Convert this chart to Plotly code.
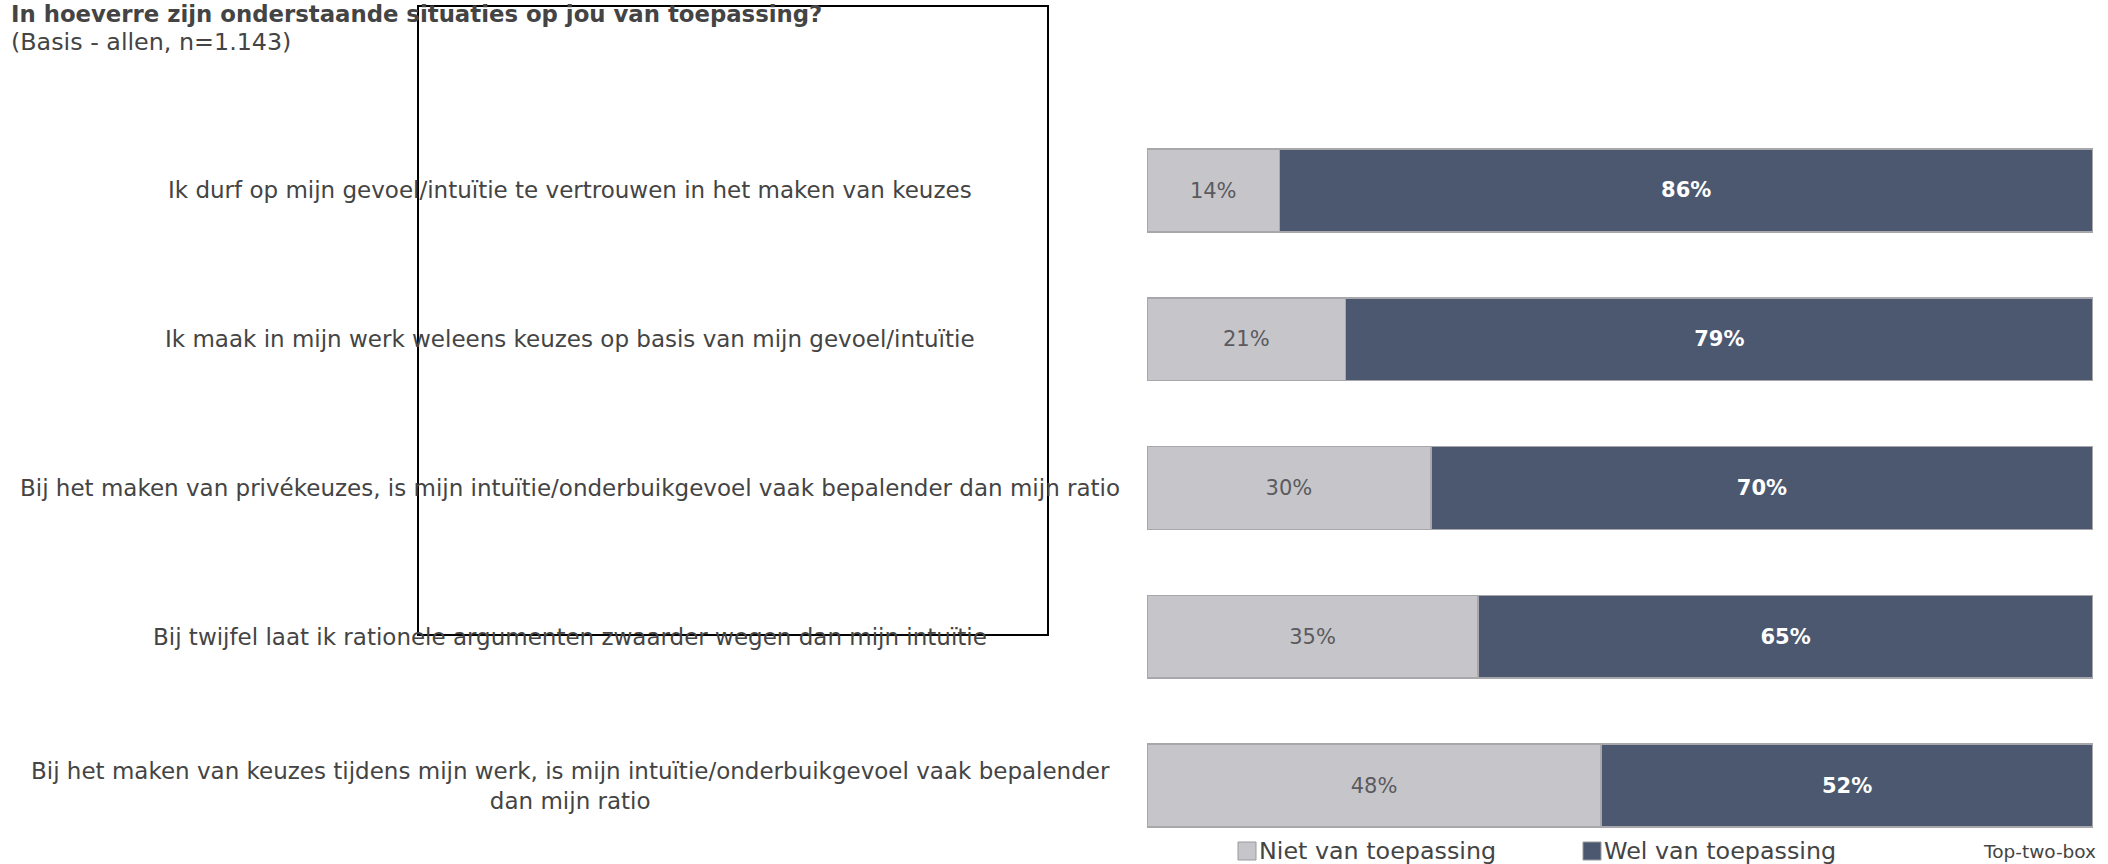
import plotly.graph_objects as go

# Survey statements (top to bottom) and their shares in percent
statements = [
    "Ik durf op mijn gevoel/intuïtie te vertrouwen in het maken van keuzes",
    "Ik maak in mijn werk weleens keuzes op basis van mijn gevoel/intuïtie",
    "Bij het maken van privékeuzes, is mijn intuïtie/onderbuikgevoel vaak bepalender dan mijn ratio",
    "Bij twijfel laat ik rationele argumenten zwaarder wegen dan mijn intuïtie",
    "Bij het maken van keuzes tijdens mijn werk, is mijn intuïtie/onderbuikgevoel vaak bepalender<br>dan mijn ratio",
]
niet_van_toepassing = [14, 21, 30, 35, 48]
wel_van_toepassing = [86, 79, 70, 65, 52]

series_names = ["Niet van toepassing", "Wel van toepassing"]
extra_legend_label = "Top-two-box"

title_text = "In hoeverre zijn onderstaande situaties op jou van toepassing?"
subtitle_text = "(Basis - allen, n=1.143)"

LIGHT = "#c6c6ca"
DARK = "#4b5870"
EDGE = "#a8a8ac"
TEXT = "#444444"
FONT = "DejaVu Sans"

W, H = 2108, 864
PLOT_L, PLOT_R, PLOT_T, PLOT_B = 1147, 2093, 116, 860


def px(x):
    return (x - PLOT_L) / (PLOT_R - PLOT_L)


def py(y):
    return (PLOT_B - y) / (PLOT_B - PLOT_T)


cats = list(range(len(statements)))

fig = go.Figure()
fig.add_trace(go.Bar(
    y=cats, x=niet_van_toepassing, orientation="h", name=series_names[0],
    marker=dict(color=LIGHT, line=dict(color=EDGE, width=1.5)),
    texttemplate="%{x}%", textposition="inside", insidetextanchor="middle",
    textfont=dict(family=FONT, size=22, color="#5a5a5e"),
    width=0.557, hoverinfo="skip", showlegend=False,
))
fig.add_trace(go.Bar(
    y=cats, x=wel_van_toepassing, orientation="h", name=series_names[1],
    marker=dict(color=DARK, line=dict(color=EDGE, width=1.5)),
    texttemplate="<b>%{x}%</b>", textposition="inside", insidetextanchor="middle",
    textfont=dict(family=FONT, size=21, color="white"),
    width=0.557, hoverinfo="skip", showlegend=False,
))

annotations = []
# Statement labels, centred in the left-hand column
for c, s in zip(cats, statements):
    annotations.append(dict(
        x=px(570), xref="paper", y=c, yref="y", text=s, showarrow=False,
        xanchor="center", yanchor="middle", align="center",
        font=dict(family=FONT, size=23, color=TEXT),
    ))

# Heading
annotations.append(dict(
    x=px(9), xref="paper", y=py(14), yref="paper", text="<b>" + title_text + "</b>",
    showarrow=False, xanchor="left", yanchor="middle",
    font=dict(family=FONT, size=22.8, color=TEXT),
))
annotations.append(dict(
    x=px(9), xref="paper", y=py(42), yref="paper", text=subtitle_text,
    showarrow=False, xanchor="left", yanchor="middle",
    font=dict(family=FONT, size=23.8, color=TEXT),
))

# Legend row
legend_y = 851
legend_items = [(1238, LIGHT, series_names[0]), (1583, DARK, series_names[1])]
shapes = []
for x0, col, name in legend_items:
    shapes.append(dict(
        type="rect", xref="paper", yref="paper",
        x0=px(x0), x1=px(x0 + 18), y0=py(legend_y + 9), y1=py(legend_y - 9),
        fillcolor=col, line=dict(color="#9a9a9e", width=1),
    ))
    annotations.append(dict(
        x=px(x0 + 19), xref="paper", y=py(legend_y), yref="paper", text=name,
        showarrow=False, xanchor="left", yanchor="middle",
        font=dict(family=FONT, size=23.8, color=TEXT),
    ))
annotations.append(dict(
    x=px(2098), xref="paper", y=py(legend_y), yref="paper", text=extra_legend_label,
    showarrow=False, xanchor="right", yanchor="middle",
    font=dict(family=FONT, size=18.5, color=TEXT),
))

# Outline frame over the label column
shapes.append(dict(
    type="rect", xref="paper", yref="paper",
    x0=px(418), x1=px(1048), y0=py(635), y1=py(6),
    line=dict(color="black", width=2), fillcolor="rgba(0,0,0,0)",
))

fig.update_layout(
    width=W, height=H,
    margin=dict(l=PLOT_L, r=W - PLOT_R, t=PLOT_T, b=H - PLOT_B, pad=0),
    barmode="stack",
    paper_bgcolor="white", plot_bgcolor="white",
    xaxis=dict(range=[0, 100], visible=False, fixedrange=True),
    yaxis=dict(range=[len(cats) - 0.5, -0.5], visible=False, fixedrange=True),
    annotations=annotations, shapes=shapes,
    showlegend=False,
    uniformtext=dict(mode="show", minsize=10),
)

fig.write_html("out.html", config={"displayModeBar": False})
